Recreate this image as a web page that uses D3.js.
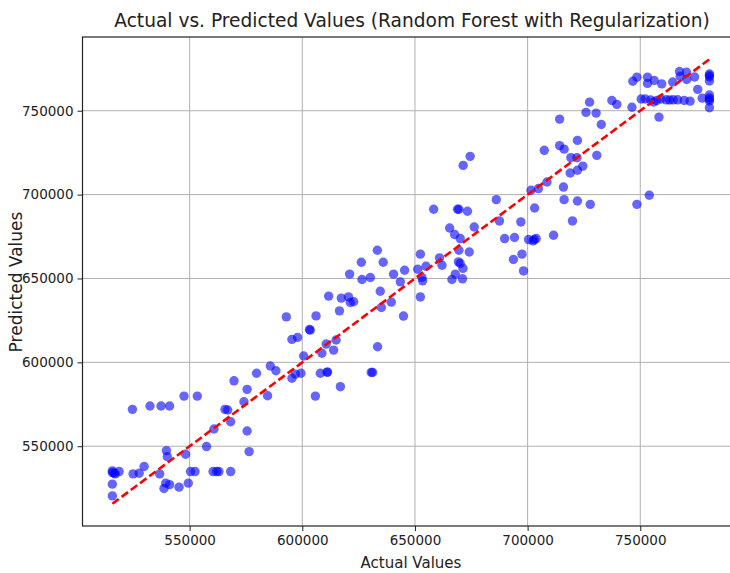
<!DOCTYPE html>
<html>
<head>
  <meta charset="utf-8">
  <title>Actual vs. Predicted Values</title>
  <script src="https://cdn.jsdelivr.net/npm/d3@7"></script>
  <style>
    html, body { margin: 0; padding: 0; background: #fff; }
    svg { display: block; font-family: "DejaVu Sans", sans-serif; }
  </style>
</head>
<body>
  <div id="container"></div>
  <script>
    // values (actual, predicted pairs)
    const actualValues = [
      515700, 516500, 518700, 515700, 517000, 515700, 515700, 524600, 532400, 537300,
      541100, 547500, 553400, 524900, 527600, 529800, 536700, 539700, 540100, 539400,
      541100, 538600, 545300, 549400, 548200, 550400, 552400, 557500, 560400, 562000,
      563000, 568200, 560800, 565700, 566900, 568200, 569700, 574100, 575500, 575500,
      576400, 579700, 584600, 585800, 588300, 595400, 596900, 599400, 600600, 605800,
      608000, 611000, 611200, 608700, 610600, 613900, 615000, 616900, 595400, 597900,
      603200, 603500, 592900, 606100, 611700, 616500, 617300, 620500, 621300, 622800,
      621000, 626500, 630200, 630600, 631200, 633400, 634600, 635100, 639500, 640500,
      643500, 644900, 645400, 652400, 633300, 635900, 626200, 651200, 652400, 653100,
      653400, 654900, 660900, 662000, 658300, 665400, 667600, 668900, 669500, 670100,
      673300, 669500, 674100, 669300, 670100, 671300, 667900, 666400, 671100, 676300,
      686100, 687500, 689800, 694200, 697000, 693700, 697500, 698200, 700400, 702400,
      702900, 703800, 703100, 701500, 704800, 708600, 715900, 716200, 711500, 719900,
      722100, 671400, 674500, 707400, 714200, 714200, 716200, 719200, 721900, 722100,
      718900, 722100, 724500, 727800, 725900, 730400, 727500, 732700, 730700, 737400,
      739600, 746300, 746700, 748500, 748500, 754000, 750400, 752200, 754600, 755900,
      757300, 759100, 761500, 763000, 764600, 766600, 769500, 772100, 753200, 753200,
      756200, 759500, 758300, 764400, 767400, 767700, 770500, 770600, 774100, 775500,
      777500, 780700, 780700, 780700, 780700, 780700, 780700, 780700, 780700, 780700
    ];
    const predictedValues = [
      534300, 533900, 534900, 535300, 533500, 527400, 520400, 572000, 574000, 574000,
      574000, 579900, 579900, 533500, 533900, 537900, 533500, 547400, 543800, 528000,
      527100, 524800, 525600, 528000, 545200, 534900, 534900, 549800, 534900, 534900,
      534900, 534900, 560300, 572000, 571600, 564600, 589000, 576500, 583900, 559100,
      546800, 593500, 580100, 597800, 595000, 590500, 593000, 593500, 603800, 579900,
      593500, 594200, 594200, 605400, 610900, 607300, 613300, 585500, 613700, 614900,
      619600, 619200, 627100, 627700, 639500, 630700, 638300, 639000, 635700, 636100,
      652600, 649400, 650600, 594000, 594000, 609300, 642400, 632700, 635900, 652600,
      648000, 627600, 654900, 639000, 666800, 659700, 659700, 655500, 664500, 650600,
      648600, 657300, 662300, 657900, 691300, 680100, 676200, 691300, 691300, 673800,
      690100, 666800, 665800, 659900, 658900, 656000, 652600, 649400, 649800, 680700,
      697000, 684300, 673800, 674400, 683700, 661300, 664500, 654500, 673200, 672400,
      673200, 673800, 692000, 702600, 703600, 707500, 704500, 697000, 675800, 684300,
      696200, 717400, 722800, 726400, 745000, 729200, 727100, 722000, 722000, 732300,
      712900, 714500, 717000, 694200, 749000, 748600, 755100, 741800, 723400, 756100,
      753800, 752100, 767600, 770000, 694200, 699600, 757000, 757000, 756400, 755200,
      756100, 757000, 756500, 756400, 756500, 756500, 756100, 755700, 770000, 766300,
      768000, 766000, 746200, 767100, 773400, 770400, 773000, 768600, 770100, 762700,
      757500, 771900, 770100, 767700, 759400, 757600, 755800, 751800, 771000, 756700
    ];
    const xTicks = [550000, 600000, 650000, 700000, 750000];
    const yTicks = [550000, 600000, 650000, 700000, 750000];

    const width = 730;
    const height = 573;
    const plot = { left: 82.5, right: 739.3, top: 37, bottom: 526 };

    const points = actualValues.map((a, i) => ({ actual: a, predicted: predictedValues[i] }));
    const lineEnds = d3.extent(actualValues);

    // matplotlib-like autoscale: data extent plus 5% margin
    const pad = ([lo, hi]) => [lo - (hi - lo) * 0.05, hi + (hi - lo) * 0.05];
    const xDomain = pad(d3.extent([...actualValues, ...lineEnds]));
    const yDomain = pad(d3.extent([...predictedValues, ...lineEnds]));

    const xScale = d3.scaleLinear().domain(xDomain).range([plot.left, plot.right]);
    const yScale = d3.scaleLinear().domain(yDomain).range([plot.bottom, plot.top]);

    const svg = d3.select("#container")
      .append("svg")
      .attr("width", width)
      .attr("height", height);

    svg.append("rect").attr("width", width).attr("height", height).attr("fill", "#fff");

    // grid
    const grid = svg.append("g").attr("stroke", "#b0b0b0").attr("stroke-width", 1);
    grid.selectAll("line.gx").data(xTicks).join("line")
      .attr("x1", d => xScale(d)).attr("x2", d => xScale(d))
      .attr("y1", plot.top).attr("y2", plot.bottom);
    grid.selectAll("line.gy").data(yTicks).join("line")
      .attr("y1", d => yScale(d)).attr("y2", d => yScale(d))
      .attr("x1", plot.left).attr("x2", plot.right);

    // scatter points
    svg.append("g").selectAll("circle")
      .data(points)
      .join("circle")
      .attr("cx", d => xScale(d.actual))
      .attr("cy", d => yScale(d.predicted))
      .attr("r", 4.7)
      .attr("fill", "#0000ff")
      .attr("fill-opacity", 0.6);

    // ideal line
    svg.append("path")
      .datum(lineEnds)
      .attr("fill", "none")
      .attr("stroke", "#ff0000")
      .attr("stroke-width", 2.6)
      .attr("stroke-dasharray", "8,3.5")
      .attr("d", d3.line().x(d => xScale(d)).y(d => yScale(d)));

    // axes
    const xAxis = svg.append("g")
      .attr("transform", `translate(0,${plot.bottom})`)
      .call(d3.axisBottom(xScale).tickValues(xTicks).tickFormat(d3.format("d")).tickSize(5).tickPadding(4));
    const yAxis = svg.append("g")
      .attr("transform", `translate(${plot.left},0)`)
      .call(d3.axisLeft(yScale).tickValues(yTicks).tickFormat(d3.format("d")).tickSize(5).tickPadding(4));

    [xAxis, yAxis].forEach(g => {
      g.select(".domain").remove();
      g.selectAll("line").attr("stroke", "#222");
      g.selectAll("text")
        .attr("fill", "#222")
        .style("font-family", "DejaVu Sans, sans-serif")
        .style("font-size", "13.5px");
    });

    // frame
    svg.append("rect")
      .attr("x", plot.left).attr("y", plot.top)
      .attr("width", plot.right - plot.left).attr("height", plot.bottom - plot.top)
      .attr("fill", "none").attr("stroke", "#222").attr("stroke-width", 1.2);

    // labels
    svg.append("text")
      .attr("x", 412).attr("y", 27)
      .attr("text-anchor", "middle")
      .attr("font-size", 18.6)
      .attr("fill", "#222")
      .text("Actual vs. Predicted Values (Random Forest with Regularization)");

    svg.append("text")
      .attr("x", 411).attr("y", 568)
      .attr("text-anchor", "middle")
      .attr("font-size", 15)
      .attr("fill", "#222")
      .text("Actual Values");

    svg.append("text")
      .attr("transform", "translate(22,282) rotate(-90)")
      .attr("text-anchor", "middle")
      .attr("font-size", 17)
      .attr("fill", "#222")
      .text("Predicted Values");
  </script>
</body>
</html>
